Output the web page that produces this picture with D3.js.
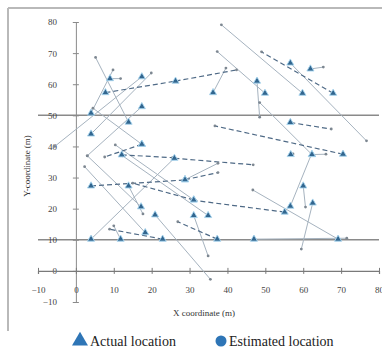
<!DOCTYPE html>
<html>
<head>
<meta charset="utf-8">
<script src="https://cdn.jsdelivr.net/npm/d3@7"></script>
<style>
  html, body { margin: 0; padding: 0; background: #fff; }
  svg { display: block; }
  text { font-family: "Liberation Serif", "DejaVu Serif", serif; }
</style>
</head>
<body>
<svg id="chart" width="382" height="349"></svg>
<script>
// Actual positions (triangles) and the positions the system estimated for them (dots).
const actualX = [4.0, 13.9, 17.4, 4.0, 9.0, 7.8, 26.3, 17.4, 17.4, 17.4,
                 12.1, 26.0, 4.0, 28.8, 28.8, 13.9, 17.2, 18.3, 22.9, 20.9,
                 4.0, 11.8, 31.1, 55.1, 31.1, 31.1, 34.9, 37.3, 47.0, 69.2,
                 60.0, 62.5, 56.6, 56.7, 62.3, 62.3, 70.5, 56.6, 56.6, 49.9,
                 59.8, 67.9, 61.9, 47.8, 36.2];
const actualY = [50.7, 47.8, 62.4, 44.0, 61.8, 57.3, 61.0, 52.8, 40.7, 40.7,
                 37.3, 36.2, 27.3, 29.3, 29.3, 27.3, 20.6, 12.3, 10.2, 18.0,
                 10.2, 10.2, 22.8, 18.9, 22.8, 17.8, 17.8, 10.2, 10.2, 10.2,
                 27.3, 21.8, 20.8, 37.4, 37.4, 37.4, 37.5, 47.7, 66.8, 57.1,
                 57.1, 57.1, 64.9, 61.0, 57.3];
const estX    = [9.8, 5.2, -5.6, 19.9, 11.8, 26.3, 42.4, 3.0, 4.5, 7.6,
                 25.5, 46.8, 28.3, 37.5, 37.5, 17.7, 3.0, 2.3, 8.9, 35.5,
                 25.8, 10.0, 15.0, 31.6, 10.4, 34.9, 12.3, 26.9, 71.5, 46.7,
                 60.6, 59.5, 62.0, 57.3, 48.5, 66.0, 36.7, 67.4, 76.7, 37.3,
                 38.4, 49.0, 65.3, 48.5, 39.6];
const estY    = [64.6, 68.6, 40.0, 63.6, 61.8, 61.0, 64.6, 37.0, 52.3, 36.6,
                 36.4, 34.1, 29.2, 31.6, 34.6, 18.3, 37.0, 33.5, 13.4, -2.7,
                 36.0, 14.5, 28.2, 22.6, 40.5, 4.8, 37.0, 15.8, 10.5, 26.0,
                 20.5, 7.0, 37.0, 37.6, 54.1, 37.5, 46.6, 45.6, 41.8, 70.5,
                 79.1, 70.4, 65.5, 49.4, 65.2];
// "s" = solid connector, "d" = dashed connector
const linkStyle = ["s", "s", "s", "s", "s", "d", "d", "s", "s", "d",
                   "d", "d", "d", "d", "s", "s", "s", "s", "d", "s",
                   "s", "s", "d", "d", "s", "s", "s", "d", "s", "s",
                   "s", "s", "s", "s", "s", "s", "d", "d", "s", "s",
                   "s", "d", "s", "s", "s"];

const xTicks = [-10, 0, 10, 20, 30, 40, 50, 60, 70, 80];
const yTicks = [-10, 0, 10, 20, 30, 40, 50, 60, 70, 80];
const gridValues = [10, 50];
const xTitle = "X coordinate (m)";
const yTitle = "Y-coordinate (m)";
const legendLabels = ["Actual location", "Estimated location"];

const svg = d3.select("#chart");
const x = d3.scaleLinear().domain([-10, 80]).range([38, 379]);
const y = d3.scaleLinear().domain([-10, 80]).range([302, 22]);

// outer chart frame
svg.append("line").attr("x1", 8).attr("x2", 382).attr("y1", 8).attr("y2", 8)
  .attr("stroke", "#b9b9b9").attr("stroke-width", 2);
svg.append("line").attr("x1", 8).attr("x2", 8).attr("y1", 8).attr("y2", 331)
  .attr("stroke", "#b9b9b9").attr("stroke-width", 2);

// horizontal reference lines
svg.append("g").selectAll("line").data(gridValues).join("line")
  .attr("x1", x(-10)).attr("x2", x(80))
  .attr("y1", d => y(d)).attr("y2", d => y(d))
  .attr("stroke", "#8a8a8a").attr("stroke-width", 1.5);

// x axis through y = 0
const xAxis = svg.append("g")
  .attr("transform", `translate(0,${y(0)})`)
  .call(d3.axisBottom(x).tickValues(xTicks).tickSize(3).tickPadding(13).tickFormat(d3.format("d")));
xAxis.attr("font-family", null);
xAxis.select(".domain").attr("stroke", "#7a7a7a").attr("stroke-width", 1.2);
xAxis.selectAll(".tick line").attr("y1", -3).attr("y2", 3).attr("stroke", "#7a7a7a");
xAxis.selectAll(".tick text").attr("font-size", 9).attr("fill", "#444");

// y axis through x = 0
const yAxis = svg.append("g")
  .attr("transform", `translate(${x(0)},0)`)
  .call(d3.axisLeft(y).tickValues(yTicks).tickSize(3).tickPadding(16).tickFormat(d3.format("d")));
yAxis.attr("font-family", null);
yAxis.select(".domain").attr("stroke", "#8a8a8a").attr("stroke-width", 1);
yAxis.selectAll(".tick line").attr("x1", -3).attr("x2", 3).attr("stroke", "#8a8a8a");
yAxis.selectAll(".tick text").attr("font-size", 9).attr("fill", "#444");
xAxis.raise();

// axis titles
svg.append("text").attr("x", 204).attr("y", 316).attr("text-anchor", "middle")
  .attr("font-size", 9).attr("fill", "#333").text(xTitle);
svg.append("text").attr("transform", "translate(30,166) rotate(-90)")
  .attr("text-anchor", "middle").attr("font-size", 9).attr("fill", "#333").text(yTitle);

// connectors between actual and estimated positions
const pairs = actualX.map((ax, i) => ({
  ax, ay: actualY[i], ex: estX[i], ey: estY[i], style: linkStyle[i]
}));

svg.append("g").selectAll("line").data(pairs.filter(p => p.style === "s")).join("line")
  .attr("x1", d => x(d.ax)).attr("y1", d => y(d.ay))
  .attr("x2", d => x(d.ex)).attr("y2", d => y(d.ey))
  .attr("stroke", "#a6b3bf").attr("stroke-width", 1);

svg.append("g").selectAll("line").data(pairs.filter(p => p.style === "d")).join("line")
  .attr("x1", d => x(d.ax)).attr("y1", d => y(d.ay))
  .attr("x2", d => x(d.ex)).attr("y2", d => y(d.ey))
  .attr("stroke", "#4f6a86").attr("stroke-width", 1.2)
  .attr("stroke-dasharray", "5,3");

// estimated positions
svg.append("g").selectAll("circle").data(pairs).join("circle")
  .attr("cx", d => x(d.ex)).attr("cy", d => y(d.ey))
  .attr("r", 1.4).attr("fill", "#7d8791");

// actual positions
const tri = d3.symbol().type(d3.symbolTriangle).size(22);
svg.append("g").selectAll("path").data(pairs).join("path")
  .attr("d", tri)
  .attr("transform", d => `translate(${x(d.ax)},${y(d.ay)})`)
  .attr("fill", "#32668f").attr("stroke", "#a9d6ef").attr("stroke-width", 0.9);

// legend
const legend = svg.append("g");
legend.append("path")
  .attr("d", d3.symbol().type(d3.symbolTriangle).size(110))
  .attr("transform", "translate(80,341)").attr("fill", "#2e75b6");
legend.append("text").attr("x", 90).attr("y", 346).attr("font-size", 14)
  .attr("fill", "#222").text(legendLabels[0]);
legend.append("circle").attr("cx", 221).attr("cy", 341).attr("r", 5.5).attr("fill", "#2e75b6");
legend.append("text").attr("x", 229).attr("y", 346).attr("font-size", 14)
  .attr("fill", "#222").text(legendLabels[1]);
</script>
</body>
</html>
